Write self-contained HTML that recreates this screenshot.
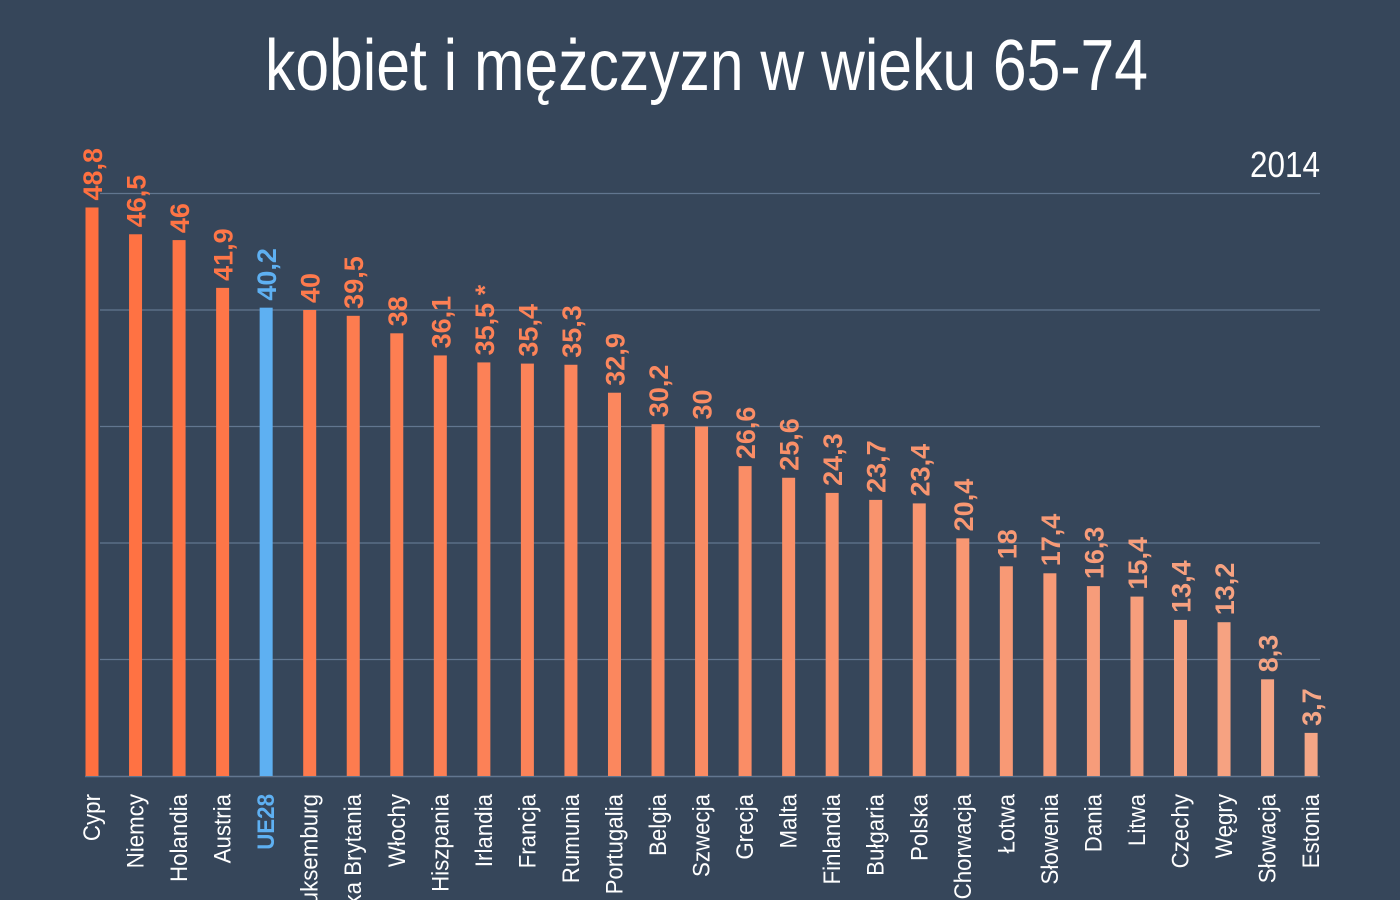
<!DOCTYPE html>
<html><head><meta charset="utf-8"><style>
html,body{margin:0;padding:0;background:#36465a;overflow:hidden;}
svg{display:block}
</style></head><body>
<svg id="s" width="1400" height="900" viewBox="0 0 1400 900" xmlns="http://www.w3.org/2000/svg">
<rect width="1400" height="900" fill="#36465a"/>
<text x="265" y="90" textLength="883" lengthAdjust="spacingAndGlyphs" font-family="Liberation Sans Narrow, Liberation Sans, sans-serif" font-size="72" fill="#fff">kobiet i mężczyzn w wieku 65-74</text>
<text x="1320" y="177" text-anchor="end" textLength="70" lengthAdjust="spacingAndGlyphs" font-family="Liberation Sans Narrow, Liberation Sans, sans-serif" font-size="36" fill="#fff">2014</text>
<g id="g"></g>
</svg>
<script>
(function(){
var names=["Cypr","Niemcy","Holandia","Austria","UE28","Luksemburg","Wielka Brytania","Włochy","Hiszpania","Irlandia","Francja","Rumunia","Portugalia","Belgia","Szwecja","Grecja","Malta","Finlandia","Bułgaria","Polska","Chorwacja","Łotwa","Słowenia","Dania","Litwa","Czechy","Węgry","Słowacja","Estonia"];
var vals=[48.8,46.5,46,41.9,40.2,40,39.5,38,36.1,35.5,35.4,35.3,32.9,30.2,30,26.6,25.6,24.3,23.7,23.4,20.4,18,17.4,16.3,15.4,13.4,13.2,8.3,3.7];
var g=document.getElementById('g'),h='';
var base=776,k=11.65;
for(var j=1;j<=5;j++){var y=base-j*116.5;h+='<line x1="100" x2="1320" y1="'+y+'" y2="'+y+'" stroke="#62768f" stroke-width="1.3"/>';}
h+='<line x1="85" x2="1320" y1="776.5" y2="776.5" stroke="#62768f" stroke-width="1.5"/>';
function mix(a,b,t){return Math.round(a+(b-a)*t);}
for(var i=0;i<29;i++){
 var x=92+i*43.54,v=vals[i],yt=base-v*k,t=i/28;
 var col=i==4?'#5eb0f2':'rgb('+mix(255,245,t)+','+mix(112,166,t)+','+mix(64,134,t)+')';
 h+='<rect x="'+(x-6.5)+'" y="'+yt+'" width="13" height="'+(base-yt)+'" fill="'+col+'"/>';
 var lab=(''+v).replace('.',',')+(i==9?' *':'');
 h+='<text transform="translate('+(x+10)+','+(yt-7)+') rotate(-90) scale(1.0,1)" font-family="Liberation Sans Narrow, Liberation Sans, sans-serif" font-weight="bold" font-size="27" fill="'+col+'">'+lab+'</text>';
 h+='<text transform="translate('+(x+8)+',794) rotate(-90) scale(0.93,1)" text-anchor="end" font-family="Liberation Sans Narrow, Liberation Sans, sans-serif" font-size="24" '+(i==4?'font-weight="bold" fill="#5eb0f2"':'fill="#fff"')+'>'+names[i]+'</text>';
}
g.innerHTML=h;
})();
</script>
</body></html>
